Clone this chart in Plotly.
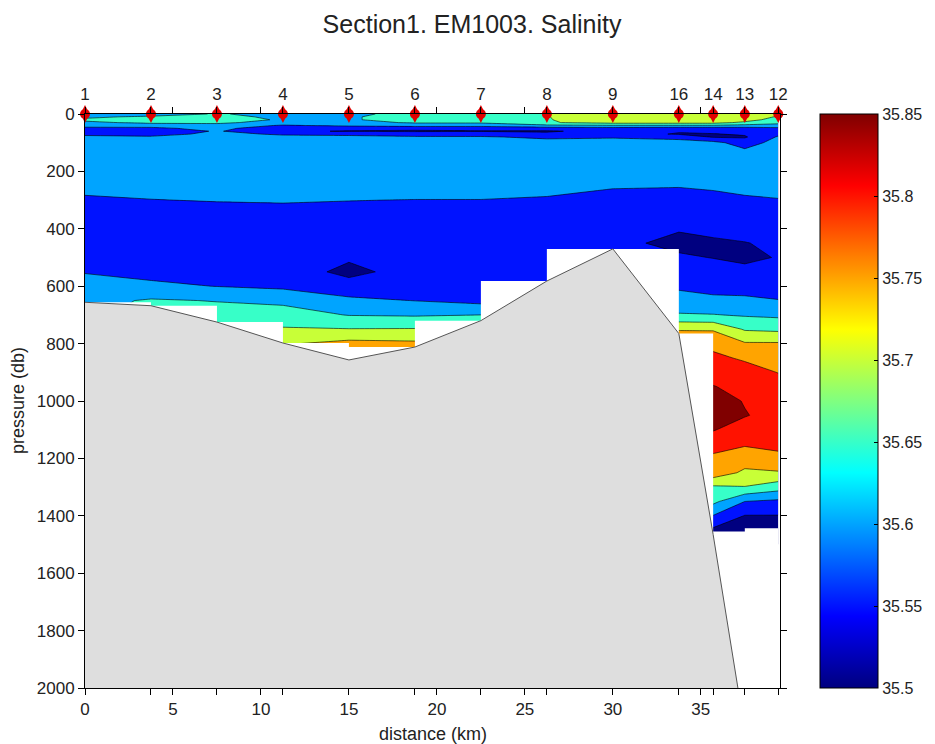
import plotly.graph_objects as go

# ---------------- data ----------------
title_text = "Section1. EM1003. Salinity"
station_names = ["1", "2", "3", "4", "5", "6", "7", "8", "9", "16", "14", "13", "12"]
station_km = [0, 3.75, 7.5, 11.25, 15, 18.75, 22.5, 26.25, 30, 33.75, 35.7, 37.5, 39.4]
surface_pressure = [0] * 13
# deepest sample of each cast (db)
max_pressure = [656, 668, 725, 798, 857, 812, 720, 582, 470, 765, 1465, 1455, 1443]
# sea floor under each station (db)
bottom_depth = [656, 668, 725, 798, 857, 812, 720, 582, 470, 765, 1465, 2140, 2870]

pressure_levels = [0, 10, 20, 30, 40, 50, 60, 70, 80, 100, 150, 200, 250, 300, 350, 400, 450,
                   500, 550, 600, 650, 700, 750, 800, 850, 900, 950, 1000, 1050, 1100, 1150,
                   1200, 1250, 1300, 1350, 1400, 1450, 1500]

N = None
sal_st1 = [35.615, 35.64, 35.66, 35.64, 35.615, 35.59, 35.575, 35.59, 35.61, 35.625, 35.635, 35.63,
           35.61, 35.595, 35.575, 35.565, 35.565, 35.57, 35.598, 35.615, 35.635, 35.64] + [N] * 16
sal_st2 = [35.62, 35.66, 35.67, 35.66, 35.62, 35.59, 35.565, 35.585, 35.605, 35.625, 35.635, 35.63,
           35.615, 35.599, 35.58, 35.565, 35.565, 35.57, 35.585, 35.61, 35.655, 35.665] + [N] * 16
sal_st3 = [35.655, 35.67, 35.67, 35.66, 35.63, 35.615, 35.605, 35.61, 35.615, 35.625, 35.635, 35.63,
           35.618, 35.602, 35.585, 35.565, 35.56, 35.565, 35.58, 35.599, 35.648, 35.67, 35.675] + [N] * 15
sal_st4 = [35.63, 35.635, 35.645, 35.63, 35.595, 35.565, 35.555, 35.595, 35.61, 35.625, 35.635, 35.63,
           35.62, 35.604, 35.585, 35.565, 35.56, 35.56, 35.57, 35.59, 35.64, 35.67, 35.705, 35.745,
           35.75] + [N] * 13
sal_st5 = [35.64, 35.645, 35.645, 35.635, 35.61, 35.56, 35.548, 35.59, 35.61, 35.625, 35.635, 35.632,
           35.62, 35.601, 35.585, 35.57, 35.56, 35.555, 35.54, 35.565, 35.612, 35.648, 35.702, 35.765,
           35.785, 35.79] + [N] * 12
sal_st6 = [35.665, 35.67, 35.67, 35.655, 35.62, 35.56, 35.545, 35.58, 35.605, 35.625, 35.635, 35.632,
           35.622, 35.599, 35.585, 35.57, 35.56, 35.56, 35.565, 35.575, 35.599, 35.645, 35.703, 35.76,
           35.78] + [N] * 13
sal_st7 = [35.665, 35.67, 35.67, 35.655, 35.62, 35.56, 35.548, 35.575, 35.605, 35.625, 35.635, 35.632,
           35.622, 35.599, 35.585, 35.57, 35.562, 35.56, 35.562, 35.57, 35.585, 35.65, 35.68] + [N] * 15
sal_st8 = [35.699, 35.698, 35.697, 35.696, 35.64, 35.575, 35.545, 35.56, 35.59, 35.62, 35.635, 35.63,
           35.615, 35.595, 35.58, 35.57, 35.565, 35.56, 35.56, 35.565, 35.57] + [N] * 17
sal_st9 = [35.73, 35.735, 35.73, 35.715, 35.645, 35.58, 35.565, 35.575, 35.595, 35.62, 35.635, 35.628,
           35.604, 35.585, 35.575, 35.565, 35.56, 35.555] + [N] * 20
sal_st16 = [35.73, 35.735, 35.73, 35.715, 35.645, 35.575, 35.555, 35.545, 35.59, 35.612, 35.635, 35.625,
            35.602, 35.585, 35.575, 35.553, 35.54, 35.555, 35.575, 35.592, 35.62, 35.654, 35.748,
            35.77] + [N] * 14
sal_st14 = [35.73, 35.735, 35.73, 35.715, 35.645, 35.575, 35.56, 35.548, 35.545, 35.615, 35.635, 35.625,
            35.606, 35.588, 35.575, 35.558, 35.545, 35.549, 35.565, 35.585, 35.61, 35.652, 35.745,
            35.79, 35.808, 35.83, 35.852, 35.865, 35.866, 35.852, 35.83, 35.785, 35.78, 35.692,
            35.662, 35.598, 35.54, 35.52]
sal_st13 = [35.725, 35.73, 35.72, 35.69, 35.635, 35.58, 35.565, 35.555, 35.545, 35.575, 35.635, 35.628,
            35.61, 35.595, 35.575, 35.56, 35.549, 35.542, 35.56, 35.58, 35.61, 35.645, 35.695, 35.755,
            35.795, 35.815, 35.835, 35.848, 35.852, 35.835, 35.805, 35.775, 35.74, 35.698, 35.6,
            35.548, 35.53, 35.52]
sal_st12 = [35.705, 35.695, 35.68, 35.665, 35.63, 35.59, 35.575, 35.59, 35.605, 35.62, 35.632, 35.628,
            35.615, 35.598, 35.58, 35.565, 35.555, 35.552, 35.56, 35.575, 35.602, 35.64, 35.69, 35.755,
            35.78, 35.799, 35.815, 35.83, 35.838, 35.83, 35.81, 35.79, 35.745, 35.672, 35.59, 35.548,
            35.53, 35.52]

cbar_ticks = [35.5, 35.55, 35.6, 35.65, 35.7, 35.75, 35.8, 35.85]
cbar_ticktext = ["35.5", "35.55", "35.6", "35.65", "35.7", "35.75", "35.8", "35.85"]
x_ticks = [0, 5, 10, 15, 20, 25, 30, 35]
y_ticks = [0, 200, 400, 600, 800, 1000, 1200, 1400, 1600, 1800, 2000]

# ---------------- styling helpers ----------------
S_MIN, S_MAX, S_STEP = 35.5, 35.85, 0.05
X_RANGE = [0, 39.5]
Y_RANGE = [2000, 0]
BEYOND = 3200

# the page body has an 8 px margin: figure is 927x736 placed at (8, 8)
FIG_W, FIG_H = 927, 736
M_L, M_T, PLOT_W, PLOT_H = 77, 106, 695, 574
M_R = FIG_W - M_L - PLOT_W
M_B = FIG_H - M_T - PLOT_H


def jet(t):
    def c(v):
        return max(0.0, min(1.0, v))
    r = c(1.5 - abs(4 * t - 3))
    g = c(1.5 - abs(4 * t - 2))
    b = c(1.5 - abs(4 * t - 1))
    return "rgb(%d,%d,%d)" % (round(r * 255), round(g * 255), round(b * 255))


jet_scale = [[i / 64, jet(i / 64)] for i in range(65)]
# band colours as MATLAB contourf: band [L_k, L_k+1] takes jet(L_k)
nlev = 8
band_scale = [[0.0, jet(0.0)]] + [[k / nlev, jet((k - 1) / (nlev - 1))] for k in range(1, nlev + 1)]

profiles = [sal_st1, sal_st2, sal_st3, sal_st4, sal_st5, sal_st6, sal_st7, sal_st8, sal_st9,
            sal_st16, sal_st14, sal_st13, sal_st12]
z = [[prof[j] for prof in profiles] for j in range(len(pressure_levels))]

FONT = "Liberation Sans, Arial, Helvetica, sans-serif"
TXT = "#222222"
TICK_SIZE = 17

fig = go.Figure()

fig.add_trace(go.Contour(
    x=station_km, y=pressure_levels, z=z,
    autocontour=False,
    contours=dict(start=S_MIN, end=S_MAX + 0.0001, size=S_STEP, coloring="fill", showlines=True),
    colorscale=band_scale, showscale=False,
    line=dict(color="black", width=0.6, smoothing=0),
    hoverinfo="skip",
))

# white area: below deepest sample (step between neighbouring casts)
mx, my = [], []
for i in range(len(station_km) - 1):
    m = min(max_pressure[i], max_pressure[i + 1])
    mx += [station_km[i], station_km[i + 1]]
    my += [m, m]
mx += [station_km[-1], station_km[0]]
my += [BEYOND, BEYOND]
fig.add_trace(go.Scatter(x=mx, y=my, mode="lines", fill="toself", fillcolor="white",
                         line=dict(width=0), hoverinfo="skip", showlegend=False))

# sea floor
fig.add_trace(go.Scatter(x=station_km + [station_km[-1], station_km[0]],
                         y=bottom_depth + [BEYOND, BEYOND],
                         mode="lines", fill="toself", fillcolor="#dedede",
                         line=dict(width=0), hoverinfo="skip", showlegend=False))
fig.add_trace(go.Scatter(x=station_km, y=bottom_depth, mode="lines",
                         line=dict(color="#555555", width=1), hoverinfo="skip", showlegend=False))

# station markers on top axis
fig.add_trace(go.Scatter(x=station_km, y=surface_pressure, xaxis="x2", mode="markers",
                         marker=dict(symbol="circle", size=10, color="#e00000"),
                         cliponaxis=False, hoverinfo="skip", showlegend=False))
fig.add_trace(go.Scatter(x=station_km, y=surface_pressure, xaxis="x2", mode="markers",
                         marker=dict(symbol="diamond-tall", size=13, color="#e00000"),
                         cliponaxis=False, hoverinfo="skip", showlegend=False))

# colour bar (continuous jet)
fig.add_trace(go.Scatter(
    x=[None], y=[None], mode="markers", hoverinfo="skip", showlegend=False,
    marker=dict(color=[S_MIN, S_MAX], colorscale=jet_scale, cmin=S_MIN, cmax=S_MAX, showscale=True,
                colorbar=dict(x=(820 - 85) / PLOT_W, xanchor="left", y=0.5, yanchor="middle", len=1.0,
                              lenmode="fraction", thickness=58, xpad=0, ypad=0,
                              outlinecolor="black", outlinewidth=1,
                              tickvals=cbar_ticks, ticktext=cbar_ticktext,
                              ticks="inside", ticklen=4, tickcolor="black",
                              tickfont=dict(family=FONT, size=16, color=TXT))),
))

axis_common = dict(showgrid=False, zeroline=False, showline=True, linecolor="black", linewidth=1,
                   ticks="outside", ticklen=6, tickcolor="black", mirror="ticks",
                   tickfont=dict(family=FONT, size=TICK_SIZE, color=TXT))

fig.update_layout(
    width=FIG_W, height=FIG_H,
    margin=dict(l=M_L, r=M_R, t=M_T, b=M_B, autoexpand=False),
    paper_bgcolor="white", plot_bgcolor="white",
    showlegend=False,
    title=dict(text=title_text, x=(472 - 8) / FIG_W, xanchor="center", xref="container",
               y=1 - (24 - 8) / FIG_H, yanchor="middle", yref="container",
               font=dict(family=FONT, size=25, color=TXT)),
    xaxis=dict(range=X_RANGE, tickvals=x_ticks, automargin=False, **axis_common),
    xaxis2=dict(range=X_RANGE, overlaying="x", side="top", tickvals=station_km, automargin=False,
                ticktext=station_names, **axis_common),
    yaxis=dict(range=Y_RANGE, tickvals=y_ticks, automargin=False, **axis_common),
    annotations=[
        dict(text="distance (km)", x=0.5, xref="paper", y=-(734 - 688) / PLOT_H, yref="paper",
             showarrow=False, xanchor="center", yanchor="middle",
             font=dict(family=FONT, size=18, color=TXT)),
        dict(text="pressure (db)", x=(18 - 85) / PLOT_W, xref="paper", y=0.5, yref="paper",
             showarrow=False, xanchor="center", yanchor="middle", textangle=-90,
             font=dict(family=FONT, size=18, color=TXT)),
    ],
)

fig.write_html("out.html")
